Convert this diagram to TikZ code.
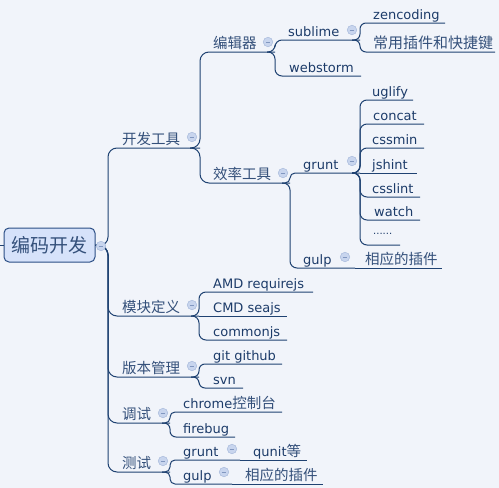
\documentclass[tikz,border=0pt]{standalone}
\usepackage{fontspec}
\setmainfont{DejaVu Sans}
\newfontfamily\cjk{Noto Sans CJK SC}
\definecolor{bgc}{HTML}{F1F4FA}
\definecolor{linec}{HTML}{1F4272}
\definecolor{txtc}{HTML}{1C3B69}
\definecolor{zhc}{HTML}{34507A}
\definecolor{rootf}{HTML}{D6E2FA}
\definecolor{rootd}{HTML}{2B4E85}
\definecolor{togf}{HTML}{C8D5EE}
\definecolor{togd}{HTML}{A8BADB}
\definecolor{togm}{HTML}{8197C0}
\newcommand\zh[1]{{\cjk\color{zhc}\fontsize{14.5}{16}\selectfont #1}}
\begin{document}
\begin{tikzpicture}[x=1pt,y=-1pt,
  lnk/.style={draw=linec, line width=1pt, rounded corners=7pt},
  tp/.style={anchor=base west, inner sep=0pt, text=txtc, font=\fontsize{13}{15}\selectfont},
  tog/.style={circle, minimum size=9.5pt, inner sep=0pt, fill=togf, draw=togd, line width=0.5pt,
    path picture={\draw[togm, line width=0.8pt] ([xshift=2.3pt]path picture bounding box.west) -- ([xshift=-2.3pt]path picture bounding box.east);}},
  rootbox/.style={draw=rootd, fill=rootf, line width=1pt, rounded corners=5pt, minimum width=91pt, minimum height=34pt, inner sep=0pt}
]
\fill[bgc] (0,0) rectangle (499,488);
\useasboundingbox (0,0) rectangle (499,488);

% root
\node[rootbox] (root) at (49.5,245) {{\cjk\color{zhc}\fontsize{19}{21}\selectfont 编码开发}};
\coordinate (rootL) at (0,245);
\coordinate (rootP) at (108,246);

% level 1
\node[tp] (dev) at (122,144) {\zh{开发工具}};  \coordinate (dev-e) at (200,148);
\node[tp] (mod) at (122,312) {\zh{模块定义}};  \coordinate (mod-e) at (199,316);
\node[tp] (ver) at (122,373) {\zh{版本管理}};  \coordinate (ver-e) at (199,377);
\node[tp] (dbg) at (122,419) {\zh{调试}};      \coordinate (dbg-e) at (170,423);
\node[tp] (tst) at (122,468) {\zh{测试}};      \coordinate (tst-e) at (170,472);

% level 2 under dev
\node[tp] (edit) at (213,48) {\zh{编辑器}};    \coordinate (edit-e) at (275,52);
\node[tp] (eff) at (213,179) {\zh{效率工具}};  \coordinate (eff-e) at (290,183);

% editors
\node[tp] (subl) at (288,36) {sublime};        \coordinate (subl-e) at (360,40);
\node[tp] (webs) at (289,72) {webstorm};       \coordinate (webs-e) at (361,76);
\node[tp] (zen) at (373,19) {zencoding};       \coordinate (zen-e) at (445,23);
\node[tp] (cyc) at (373,48) {{\cjk\color{zhc}\fontsize{15}{17}\selectfont 常用插件和快捷键}}; \coordinate (cyc-e) at (495,52);

% efficiency tools
\node[tp] (grunt) at (303,169) {grunt};        \coordinate (grunt-e) at (360,173);
\node[tp] (gulp) at (303,264) {gulp};          \coordinate (gulp-e) at (355,268);
\node[tp] (plug1) at (365,264) {\zh{相应的插件}}; \coordinate (plug1-e) at (442,268);

\node[tp] (ugl) at (372,96) {uglify};          \coordinate (ugl-e) at (413,100);
\node[tp] (cct) at (373,120) {concat};         \coordinate (cct-e) at (424,124);
\node[tp] (csm) at (372,144) {cssmin};         \coordinate (csm-e) at (424,148);
\node[tp] (jsh) at (372,169) {jshint};         \coordinate (jsh-e) at (417,173);
\node[tp] (csl) at (372,193) {csslint};        \coordinate (csl-e) at (420,197);
\node[tp] (wat) at (374,216) {watch};          \coordinate (wat-e) at (420,220);
\node[tp, font=\fontsize{10}{12}\selectfont] (dots) at (373,234) {......}; \coordinate (dots-e) at (400,245);

% modules
\node[tp] (amd) at (213,288) {AMD requirejs};  \coordinate (amd-e) at (313,292);
\node[tp] (cmd) at (213,312) {CMD seajs};      \coordinate (cmd-e) at (287,316);
\node[tp] (cjs) at (213,336) {commonjs};       \coordinate (cjs-e) at (287,340);

% version control
\node[tp] (git) at (213,360) {git github};     \coordinate (git-e) at (282,364);
\node[tp] (svn) at (213,384) {svn};            \coordinate (svn-e) at (243,388);

% debug
\node[tp] (chr) at (183,408) {chrome\zh{控制台}}; \coordinate (chr-e) at (282,412);
\node[tp] (fb) at (183,433) {firebug};         \coordinate (fb-e) at (235,437);

% test
\node[tp] (gr2) at (183,456) {grunt};          \coordinate (gr2-e) at (240,460);
\node[tp] (qun) at (253,456) {qunit\zh{等}};   \coordinate (qun-e) at (307,460);
\node[tp] (gl2) at (183,480) {gulp};           \coordinate (gl2-e) at (232,484);
\node[tp] (plug2) at (245,480) {\zh{相应的插件}}; \coordinate (plug2-e) at (323,484);

% connectors
\draw[lnk] (rootL) -- (root.west);
\draw[lnk, rounded corners=9pt] (root.east) -- (rootP) |- (dev-e);
\draw[lnk, rounded corners=9pt] (root.east) -- (rootP) |- (mod-e);
\draw[lnk, rounded corners=9pt] (root.east) -- (rootP) |- (ver-e);
\draw[lnk, rounded corners=9pt] (root.east) -- (rootP) |- (dbg-e);
\draw[lnk, rounded corners=9pt] (root.east) -- (rootP) |- (tst-e);

\draw[lnk, rounded corners=9pt] ([xshift=-10pt]dev-e) -- (dev-e) |- (edit-e);
\draw[lnk, rounded corners=9pt] ([xshift=-10pt]dev-e) -- (dev-e) |- (eff-e);

\draw[lnk] ([xshift=-8pt]edit-e) -- (edit-e) |- (subl-e);
\draw[lnk] ([xshift=-8pt]edit-e) -- (edit-e) |- (webs-e);
\draw[lnk, rounded corners=6pt] ([xshift=-8pt]subl-e) -- (subl-e) |- (zen-e);
\draw[lnk, rounded corners=6pt] ([xshift=-8pt]subl-e) -- (subl-e) |- (cyc-e);

\draw[lnk, rounded corners=5pt] ([xshift=-8pt]eff-e) -- (eff-e) |- (grunt-e);
\draw[lnk] ([xshift=-8pt]eff-e) -- (eff-e) |- (gulp-e);
\draw[lnk] (gulp-e) -- (plug1-e);

\draw[lnk] ([xshift=-8pt]grunt-e) -- (grunt-e) |- (ugl-e);
\draw[lnk] ([xshift=-8pt]grunt-e) -- (grunt-e) |- (cct-e);
\draw[lnk] ([xshift=-8pt]grunt-e) -- (grunt-e) |- (csm-e);
\draw[lnk] (grunt-e) -- (jsh-e);
\draw[lnk] ([xshift=-8pt]grunt-e) -- (grunt-e) |- (csl-e);
\draw[lnk] ([xshift=-8pt]grunt-e) -- (grunt-e) |- (wat-e);
\draw[lnk] ([xshift=-8pt]grunt-e) -- (grunt-e) |- (dots-e);

\draw[lnk] ([xshift=-8pt]mod-e) -- (mod-e) |- (amd-e);
\draw[lnk] (mod-e) -- (cmd-e);
\draw[lnk] ([xshift=-8pt]mod-e) -- (mod-e) |- (cjs-e);

\draw[lnk, rounded corners=6pt] ([xshift=-8pt]ver-e) -- (ver-e) |- (git-e);
\draw[lnk, rounded corners=6pt] ([xshift=-8pt]ver-e) -- (ver-e) |- (svn-e);

\draw[lnk, rounded corners=5pt] ([xshift=-8pt]dbg-e) -- (dbg-e) |- (chr-e);
\draw[lnk, rounded corners=6pt] ([xshift=-8pt]dbg-e) -- (dbg-e) |- (fb-e);

\draw[lnk, rounded corners=5pt] ([xshift=-8pt]tst-e) -- (tst-e) |- (gr2-e);
\draw[lnk, rounded corners=5pt] ([xshift=-8pt]tst-e) -- (tst-e) |- (gl2-e);
\draw[lnk] (gr2-e) -- (qun-e);
\draw[lnk] (gl2-e) -- (plug2-e);

% collapse toggles
\node[tog] (root-t) at (101,246) {};
\node[tog] (dev-t) at (192,137) {};
\node[tog] (mod-t) at (192,305) {};
\node[tog] (ver-t) at (192,366) {};
\node[tog] (dbg-t) at (163,413) {};
\node[tog] (tst-t) at (163,461) {};
\node[tog] (edit-t) at (268,42) {};
\node[tog] (eff-t) at (283,173) {};
\node[tog] (subl-t) at (352,30) {};
\node[tog] (grunt-t) at (352,161) {};
\node[tog] (gulp-t) at (345,257) {};
\node[tog] (gr2-t) at (232,449) {};
\node[tog] (gl2-t) at (224,472) {};
\end{tikzpicture}
\end{document}
